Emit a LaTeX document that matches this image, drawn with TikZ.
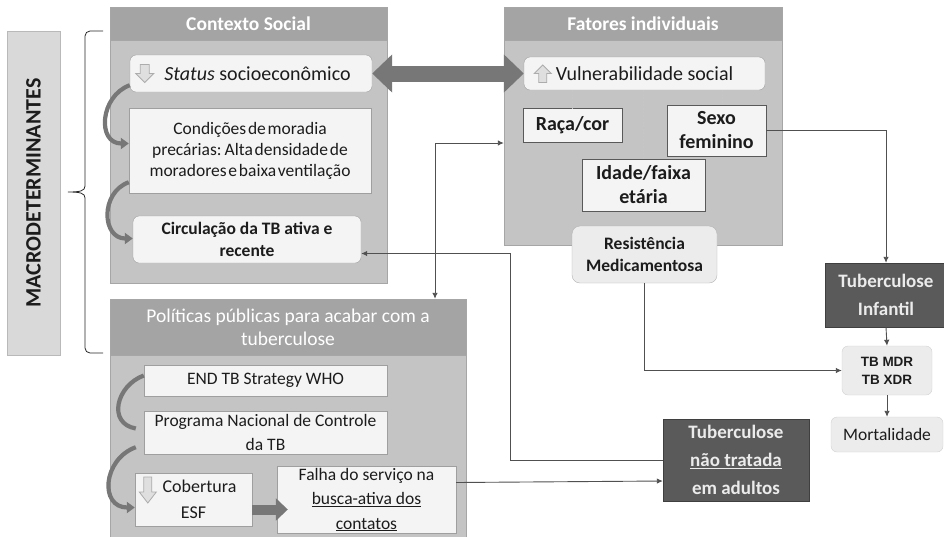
\documentclass[tikz,border=0pt]{standalone}
\usepackage{fontspec}
\setmainfont{Carlito}
\newfontfamily\arialfont{Liberation Sans}
\newfontfamily\tightfont{Carlito}[WordSpace=0.45]
\usepackage{tikz}
\usetikzlibrary{positioning, arrows.meta}
\usepackage{xcolor}
\definecolor{headercol}{HTML}{A4A4A4}
\definecolor{panelcol}{HTML}{C4C4C4}
\definecolor{boxcol}{HTML}{F4F4F4}
\definecolor{softcol}{HTML}{ECECEC}
\definecolor{darkcol}{HTML}{5A5A5A}
\definecolor{arrowcol}{HTML}{777777}
\definecolor{linecol}{HTML}{505050}
\definecolor{textcol}{HTML}{1C1C1C}

\begin{document}
\begin{tikzpicture}[x=1pt, y=-1pt,
  every node/.style={inner sep=2pt, align=center, text=textcol},
  panel/.style={draw=gray!70, fill=panelcol, inner sep=0pt},
  head/.style={draw=gray!70, fill=headercol, text=white, inner sep=0pt, anchor=north,
    font=\fontsize{19.5}{23}\selectfont},
  box/.style={draw=gray!75, fill=boxcol, font=\fontsize{17.5}{21}\selectfont},
  roundbox/.style={box, rounded corners=6pt},
  factor/.style={draw=gray!70!black, fill=boxcol, font=\bfseries\fontsize{20}{24}\selectfont},
  darkbox/.style={draw=darkcol!70!black, fill=darkcol, text=white!92!black,
    font=\bfseries\fontsize{19}{28}\selectfont},
  softbox/.style={draw=gray!35, fill=softcol, rounded corners=6pt},
  link/.style={draw=linecol, line width=0.9pt, -{Latex[length=6pt, width=5.5pt]}},
  dotlink/.style={draw=gray!45, line width=1.5pt, dash pattern=on 2pt off 1.5pt},
  bendarrow/.style={draw=arrowcol, line width=4.2pt, -{Triangle[length=8pt, width=11pt]}},
  bendplain/.style={draw=arrowcol, line width=4.2pt},
  fatarrow/.style={draw=arrowcol, line width=16pt,
    {Triangle[length=20pt, width=37pt]}-{Triangle[length=20pt, width=37pt]}},
  midarrow/.style={draw=arrowcol, line width=10pt, -{Triangle[length=12pt, width=22pt]}},
  icon/.style={draw=gray!65, fill=gray!25, line width=0.8pt},
  bracelink/.style={draw=gray!30!black, line width=0.8pt}]

\useasboundingbox (0,0) rectangle (944,536);

% Macrodeterminantes
\node[draw=gray!55, fill=gray!30, rotate=90, minimum width=324, minimum height=53,
  font=\bfseries\fontsize{22}{24}\selectfont] (macro) at (33.5,193) {MACRODETERMINANTES};
\coordinate (bracetop) at (103,31);
\coordinate (bracebot) at (103,353);
\draw[bracelink, rounded corners=5pt] (bracetop) -- (85,31) -- (85,186);
\draw[bracelink] (85,186) .. controls (85,191) and (80,192) .. (68,192)
  .. controls (80,192) and (85,193) .. (85,198);
\draw[bracelink, rounded corners=5pt] (85,198) -- (85,353) -- (bracebot);

% Contexto Social
\node[panel, minimum width=277, minimum height=276] (ctxpanel) at (248.5,145) {};
\node[head, minimum width=277, minimum height=33, font=\bfseries\fontsize{19.5}{23}\selectfont]
  (ctxhead) at (ctxpanel.north) {Contexto Social};
\node[roundbox, minimum width=242, minimum height=37, font=\fontsize{20}{24}\selectfont]
  (status) at (251,73.5) {\hspace*{13pt}\textit{Status} socioeconômico};
\node[box, minimum width=242, minimum height=85, font=\tightfont\fontsize{17.5}{21}\selectfont]
  (cond) at (250,150.5)
  {Condições de moradia\\precárias: Alta densidade de\\moradores e baixa ventilação};
\node[roundbox, minimum width=228, minimum height=47, font=\bfseries\fontsize{17.5}{22}\selectfont]
  (circ) at (247,239.5) {Circulação da TB ativa e\\recente};
\coordinate (statusicon) at ([xshift=15pt]status.west);
\draw[icon, shift={(statusicon)}] (-4.5,-9) -- (4.5,-9) -- (4.5,0) -- (9,0) -- (0,9)
  -- (-9,0) -- (-4.5,0) -- cycle;
\draw[bendarrow] ([yshift=7pt]status.south west) to[out=200, in=180, looseness=1.4]
  ([yshift=7pt]cond.west);
\draw[bendarrow] ([yshift=11pt]cond.south west) to[out=200, in=180, looseness=1.4]
  ([yshift=1pt]circ.west);

% Fatores individuais
\node[panel, minimum width=278, minimum height=238] (fatpanel) at (643,126) {};
\node[head, minimum width=278, minimum height=33, font=\bfseries\fontsize{19.5}{23}\selectfont]
  (fathead) at (fatpanel.north) {Fatores individuais};
\node[roundbox, minimum width=241, minimum height=33, font=\fontsize{20}{24}\selectfont]
  (vuln) at (644.5,73.5) {Vulnerabilidade social};
\coordinate (vulnicon) at ([xshift=19pt]vuln.west);
\draw[icon, shift={(vulnicon)}] (-4,9) -- (4,9) -- (4,0) -- (8.5,0) -- (0,-8.5)
  -- (-8.5,0) -- (-4,0) -- cycle;
\node[factor, minimum width=99, minimum height=34] (raca) at (572.5,125) {Raça/cor};
\node[factor, minimum width=99, minimum height=51] (sexo) at (716.5,130.5) {Sexo\\feminino};
\node[factor, minimum width=123, minimum height=52] (idade) at (643.5,185) {Idade/faixa\\etária};
\draw[dotlink] (raca.north |- vuln.south) -- (raca.north);
\draw[dotlink] (idade.north |- vuln.south) -- (idade.north);
\draw[dotlink] ([xshift=6pt]sexo.north |- vuln.south) -- ([xshift=6pt]sexo.north);
\node[draw=gray!60, fill=softcol, rounded corners=8pt, minimum width=145, minimum height=57,
  font=\bfseries\fontsize{17.5}{22}\selectfont] (resist) at (644.5,254.5) {Resistência\\Medicamentosa};

\draw[fatarrow] (status.east) -- (vuln.west);

% Politicas publicas
\node[panel, minimum width=356, minimum height=238] (polpanel) at (288,418) {};
\node[head, minimum width=356, minimum height=56] (polhead) at (polpanel.north)
  {Políticas públicas para acabar com a\\tuberculose};
\node[box, minimum width=243, minimum height=31] (endtb) at (265.5,380.5) {END TB Strategy WHO};
\node[box, minimum width=243, minimum height=43, font=\fontsize{17.5}{24}\selectfont]
  (programa) at (265.5,432.5) {Programa Nacional de Controle\\da TB};
\node[box, minimum width=117, minimum height=53, font=\fontsize{18}{26}\selectfont]
  (cobertura) at (193.5,499.5) {\hspace*{12pt}Cobertura\\ESF};
\node[box, minimum width=179, minimum height=65, font=\fontsize{17.5}{24.5}\selectfont]
  (falha) at (366.5,499.5) {Falha do serviço na\\\underline{busca-ativa dos}\\\underline{contatos}};
\coordinate (cobicon) at ([xshift=13pt, yshift=9.5pt]cobertura.west);
\draw[icon, shift={(cobicon)}] (-4,-13) -- (4,-13) -- (4,2) -- (8.5,2) -- (0,13)
  -- (-8.5,2) -- (-4,2) -- cycle;
\draw[midarrow] ([yshift=-10pt]cobertura.east) -- ([xshift=11pt, yshift=-10pt]falha.west);
\draw[bendplain] ([yshift=5pt]endtb.west) to[out=200, in=170, looseness=1.4]
  ([xshift=-8pt, yshift=4pt]programa.west);
\draw[bendarrow] ([xshift=-8pt, yshift=7pt]programa.south west) to[out=200, in=180, looseness=1.5]
  ([yshift=-8pt]cobertura.west);

% Desfechos
\node[darkbox, minimum width=122, minimum height=64] (tbinf) at (886,295)
  {Tuberculose\\Infantil};
\node[softbox, minimum width=90, minimum height=49,
  font=\arialfont\bfseries\fontsize{13.5}{18}\selectfont] (tbmdr) at (887,370.5) {TB MDR\\TB XDR};
\node[softbox, minimum width=112, minimum height=35, font=\fontsize{17.5}{21}\selectfont]
  (mort) at (887,434.5) {Mortalidade};
\node[darkbox, minimum width=146, minimum height=82] (naotrat) at (736,460)
  {Tuberculose\\\underline{não tratada}\\em adultos};

% Conexoes
\draw[link] (sexo.east) -| (tbinf.north);
\draw[link] (tbinf.south) -- (tbmdr.north);
\draw[link] (tbmdr.south) -- (mort.north);
\draw[link] (resist.south) |- (tbmdr.west);
\draw[link] ([yshift=17pt]falha.east) -- ([yshift=-21pt]naotrat.west);
\draw[link] (naotrat.west) -- ++(-152,0) |- ([yshift=-14pt]circ.east);
\draw[link, {Latex[length=6pt, width=5.5pt]}-{Latex[length=6pt, width=5.5pt]}]
  ([yshift=-17pt]fatpanel.west) -| ([xshift=147pt]polpanel.north);
\end{tikzpicture}
\end{document}
